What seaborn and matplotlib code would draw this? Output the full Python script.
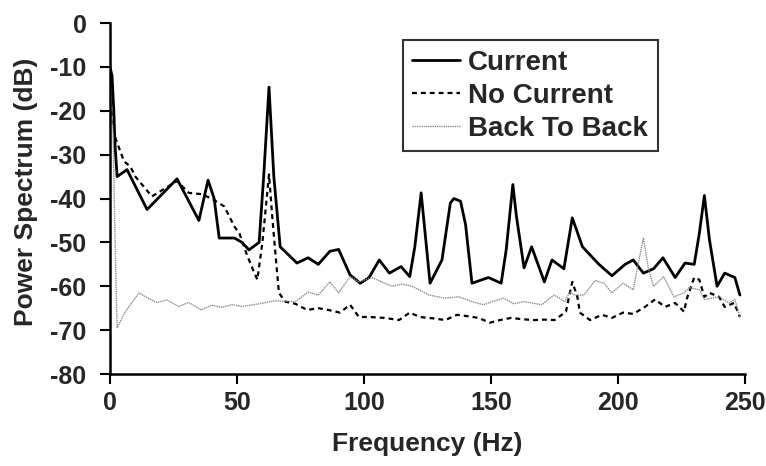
import matplotlib
matplotlib.use("Agg")
import matplotlib.pyplot as plt
import seaborn as sns
import pandas as pd

# ---- data ----
cur_f = [0, 0.8, 1.5, 2, 2.8, 6.7, 14.6, 26.4, 35, 38.6, 41, 43, 49, 52, 54.7, 58.7, 60.5, 62.6, 64.5,
         67, 73.6, 78, 82, 86.6, 90, 94.5, 98.5, 102, 106, 110, 114.6, 118, 120, 122.5, 126, 130.7,
         134, 135.4, 138, 140, 142.5, 149, 154, 156, 158.6, 160, 163, 166, 171, 174, 178.7, 182, 186,
         192.5, 197.6, 202.8, 206, 210, 214, 217.7, 222.5, 226.4, 230, 232, 234, 236, 239, 242, 246, 248]
cur_v = [-10, -12, -20, -28, -35, -33.4, -42.5, -35.5, -45, -35.8, -40, -49, -49, -50, -51.7, -50, -35, -14.6, -35,
         -51, -54.7, -53.5, -55, -52, -51.6, -57.4, -59.3, -58, -54, -57, -55.5, -57.8, -51, -38.7, -59.3, -54,
         -41, -40, -40.6, -46, -59.3, -58, -59.3, -51.6, -36.8, -44, -55.8, -51, -59, -54, -56, -44.4, -51,
         -55, -57.6, -55, -54, -57, -56, -53.5, -58, -54.7, -55, -48, -39.3, -49.4, -60, -57, -58, -62]

noc_f = [0, 1, 2, 5.5, 8, 10, 16.5, 26.4, 31, 36, 40, 45, 49, 51, 54, 56, 58, 60, 62.6, 64, 65, 66.5,
         69, 73, 77.6, 82, 86, 90.5, 94.5, 98, 102, 108, 113.8, 118, 122, 127, 132, 136.6, 140.5, 145,
         149.6, 153.5, 158, 162, 167, 171, 175, 179.5, 180.7, 182, 184, 185, 189, 193.7, 197.6, 202,
         206, 210.6, 214.6, 218.5, 222.5, 226, 227, 230, 232, 234, 236, 239.8, 242, 245.7, 248]
noc_v = [-18, -22, -26, -31.5, -32.7, -35, -39.5, -36, -38.7, -39, -40, -41.8, -46.4, -48, -53, -55.8, -58.5, -50, -34.5, -45, -51.7, -61.5,
         -63.5, -64, -65.4, -65, -65.4, -66, -64.2, -67, -67, -67.2, -67.7, -66, -67, -67.3, -67.7, -66.5, -66.8, -67.2,
         -68.3, -67.7, -67.2, -67.5, -67.7, -67.6, -67.7, -65.8, -62.4, -59, -62.4, -66, -67.7, -66.5, -67.2, -66,
         -66.3, -64.7, -63, -64.7, -63.8, -65.8, -63, -58, -58.5, -62.4, -61.5, -62.4, -64.7, -63.8, -67]

b2b_f = [0, 1.2, 2, 2.8, 6, 11.4, 15.3, 18.5, 22.4, 27, 31, 36, 40, 44, 48, 52, 58.7, 65, 73, 78, 82,
         86.6, 90, 94.5, 98, 103, 107, 111, 115, 119, 125.6, 132, 137.4, 142.5, 147, 150.4, 155, 159, 163,
         170, 174.8, 179, 181, 183, 186.6, 191, 194.5, 197.6, 202, 206, 207.5, 210, 212, 214, 218, 222,
         226, 228, 232, 234, 240, 243.7, 246, 248]
b2b_v = [-15, -25, -50, -69.5, -65.8, -61.5, -62.8, -63.7, -63.1, -64.6, -63.7, -65.4, -64.3, -64.8, -64.2, -64.6, -64, -63.3, -63.5, -61.3, -62,
         -59, -61.5, -57.8, -59, -58, -59, -60, -59.5, -60, -62, -62.7, -62.4, -63.5, -64.2, -63.5, -62.7, -64, -63.5,
         -64.2, -62, -63.5, -61.3, -62, -62, -58.7, -59.3, -61.5, -59.3, -60.8, -56.2, -49, -56, -60, -57.8, -62.4,
         -61.5, -60.3, -60.8, -63, -62.4, -63.8, -63, -67]

series_names = ["Current", "No Current", "Back To Back"]
x_ticks = [0, 50, 100, 150, 200, 250]
y_ticks = [0, -10, -20, -30, -40, -50, -60, -70, -80]

df = pd.concat([
    pd.DataFrame({"Frequency": cur_f, "Power": cur_v, "series": series_names[0]}),
    pd.DataFrame({"Frequency": noc_f, "Power": noc_v, "series": series_names[1]}),
    pd.DataFrame({"Frequency": b2b_f, "Power": b2b_v, "series": series_names[2]}),
], ignore_index=True)

sns.set_theme(style="ticks")
plt.rcParams["font.family"] = ["Liberation Sans", "DejaVu Sans"]
plt.rcParams["font.weight"] = "bold"

fig = plt.figure(figsize=(7.66, 4.66), dpi=100)
ax = fig.add_axes([0.1436, 0.1974, 0.829, 0.753])

palette = {"Current": "black", "No Current": "black", "Back To Back": "#8c8c8c"}
dashes = {"Current": "", "No Current": (2.2, 1.8), "Back To Back": (1, 0.6)}
sns.lineplot(data=df, x="Frequency", y="Power", hue="series", style="series",
             hue_order=series_names, style_order=series_names,
             palette=palette, dashes=dashes, estimator=None, sort=False, ax=ax)

widths = [2.0, 1.6, 1.0]
for line, w in zip(ax.get_lines()[:3], widths):
    line.set_linewidth(w)

ax.set_xlim(0, 250)
ax.set_ylim(-80, 0)
ax.set_xticks(x_ticks)
ax.set_yticks(y_ticks)
ax.set_xticklabels([str(t) for t in x_ticks], fontsize=18, fontweight="bold")
ax.set_yticklabels([str(t) for t in y_ticks], fontsize=18, fontweight="bold")
ax.set_xlabel("Frequency (Hz)", fontsize=19, fontweight="bold")
ax.set_ylabel("Power Spectrum (dB)", fontsize=19, fontweight="bold")
ax.xaxis.set_label_coords(0.5, -0.165)
ax.yaxis.set_label_coords(-0.113, 0.52)
ax.tick_params(axis="both", direction="out", length=7, width=1.5, color="black")
ax.tick_params(axis="x", pad=5)
ax.tick_params(axis="y", pad=10)
for s in ["top", "right"]:
    ax.spines[s].set_visible(False)
for s in ["left", "bottom"]:
    ax.spines[s].set_linewidth(1.8)
    ax.spines[s].set_color("black")

handles, labels = ax.get_legend_handles_labels()
for h, w in zip(handles, widths):
    h.set_linewidth(w)
leg = ax.legend(handles, labels, loc="upper left", bbox_to_anchor=(0.461, 0.952),
                frameon=True, fancybox=False, fontsize=20, handlelength=1.7,
                handletextpad=0.3, borderpad=0.35, labelspacing=0.25, borderaxespad=0,
                title=None)
leg.get_frame().set_edgecolor("black")
leg.get_frame().set_linewidth(1.5)
for t in leg.get_texts():
    t.set_fontweight("bold")

fig.savefig("out.png", dpi=100)
